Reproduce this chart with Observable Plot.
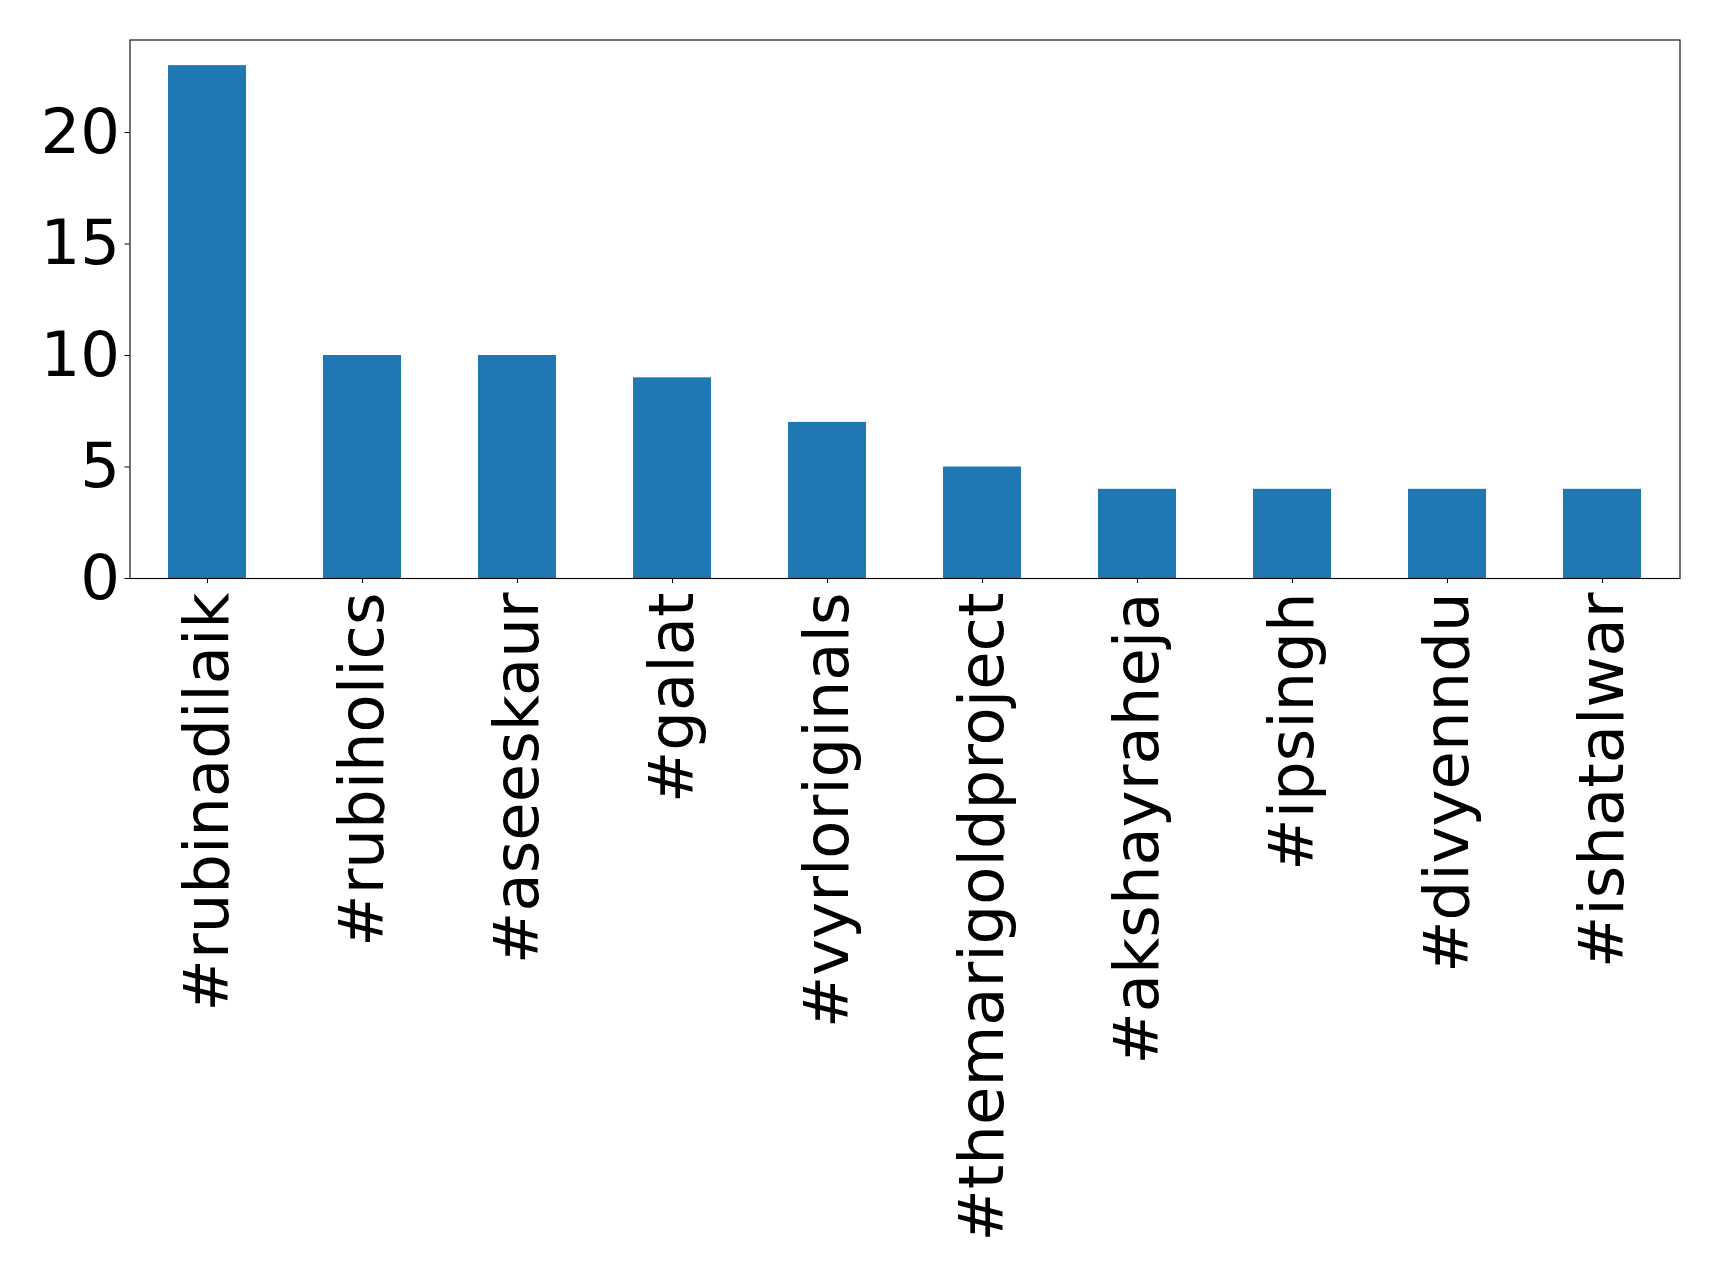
<!DOCTYPE html>
<html>
<head>
<meta charset="utf-8">
<script src="https://cdn.jsdelivr.net/npm/d3@7"></script>
<script src="https://cdn.jsdelivr.net/npm/@observablehq/plot@0.6"></script>
<style>
  html, body { margin: 0; padding: 0; background: #fff; }
  #chart svg { display: block; }
</style>
</head>
<body>
<div id="chart"></div>
<script>
const categories = ["#rubinadilaik", "#rubiholics", "#aseeskaur", "#galat", "#vyrloriginals",
  "#themarigoldproject", "#akshayraheja", "#ipsingh", "#divyenndu", "#ishatalwar"];
const counts = [23, 10, 10, 9, 7, 5, 4, 4, 4, 4];
const yTicks = [0, 5, 10, 15, 20];

const data = categories.map((c, i) => ({tag: c, count: counts[i]}));

const chart = Plot.plot({
  width: 1719,
  height: 1277,
  marginLeft: 129.5,
  marginRight: 39.5,
  marginTop: 39.5,
  marginBottom: 699,
  style: {fontFamily: "DejaVu Sans", fontSize: "62.5px", color: "black", background: "white"},
  x: {domain: categories, paddingInner: 0.5, paddingOuter: 0.25, label: null},
  y: {domain: [0, 24.15], ticks: yTicks, label: null},
  marks: [
    Plot.barY(data, {x: "tag", y: "count", fill: "#1f77b4"}),
    Plot.frame({stroke: "black", strokeWidth: 1.1}),
    Plot.axisY({ticks: yTicks, tickSize: 5, tickPadding: 5, label: null, fontSize: 62.5, tickFormat: d => String(d)}),
    Plot.axisX({tickSize: 5, tickPadding: 9, tickRotate: -90, label: null, fontSize: 62.5})
  ]
});
document.getElementById("chart").appendChild(chart);
</script>
</body>
</html>
